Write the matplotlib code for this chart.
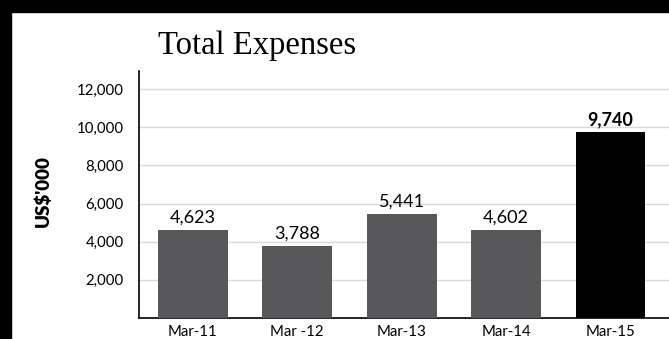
import matplotlib.pyplot as plt
from matplotlib.patches import Rectangle

# data
periods = ["Mar-11", "Mar -12", "Mar-13", "Mar-14", "Mar-15"]
expenses = [4623, 3788, 5441, 4602, 9740]
bar_colors = ["#58585a", "#58585a", "#58585a", "#58585a", "#000000"]
y_ticks = [2000, 4000, 6000, 8000, 10000, 12000]

sans = ["Lato", "DejaVu Sans"]

fig = plt.figure(figsize=(6.69, 3.39), dpi=100)

# black frame at top and left edge
fig.patches.append(Rectangle((0, 0), 11 / 669, 1, transform=fig.transFigure,
                             color="black", zorder=0))
fig.patches.append(Rectangle((0, 1 - 12 / 339), 1, 12 / 339, transform=fig.transFigure,
                             color="black", zorder=0))

ax = fig.add_axes([139 / 669, 21 / 339, 1 - 139 / 669, 247 / 339])

x = range(len(periods))
bars = ax.bar(x, expenses, width=0.67, color=bar_colors, zorder=3)

ax.set_xlim(-0.514, 4.56)
ax.set_ylim(0, 12950)
ax.set_yticks(y_ticks)
ax.set_yticklabels([f"{v:,}" for v in y_ticks], fontsize=10.8, family=sans)
ax.set_xticks(list(x))
ax.set_xticklabels(periods, fontsize=10.8, family=sans)
ax.tick_params(axis="both", length=0, pad=5)
ax.tick_params(axis="y", pad=11)
ax.grid(axis="y", color="#d9d9d9", linewidth=1, zorder=0)

for side in ["top", "right"]:
    ax.spines[side].set_visible(False)
for side in ["left", "bottom"]:
    ax.spines[side].set_color("black")
    ax.spines[side].set_linewidth(1.2)

# value labels
for i, v in enumerate(expenses):
    last = i == len(expenses) - 1
    ax.annotate(f"{v:,}", (i, v), xytext=(0, 3), textcoords="offset points",
                ha="center", va="bottom", fontsize=13, family=sans,
                fontweight="bold" if last else "normal", color="black")

fig.text(43 / 669, 1 - 191 / 339, "US$'000", rotation=90, ha="center", va="center",
         fontsize=13.5, fontweight="heavy", family=sans)
fig.text(158 / 669, 1 - 54 / 339, "Total Expenses", ha="left", va="baseline",
         fontsize=23.5, family=["Liberation Serif", "DejaVu Serif"])

fig.savefig("out.png", dpi=100)
